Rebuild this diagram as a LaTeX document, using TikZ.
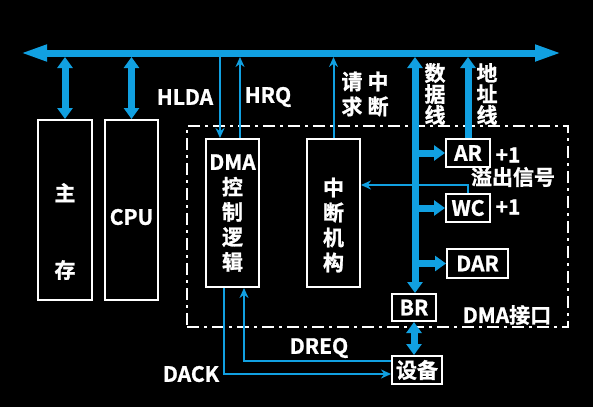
\documentclass[tikz,border=0pt]{standalone}
\usepackage{fontspec}
\setmainfont{Noto Sans CJK SC Bold}[FakeBold=1.2]
\usetikzlibrary{arrows.meta}
\definecolor{busblue}{RGB}{17,160,225}
\begin{document}
\begin{tikzpicture}[x=1pt,y=-1pt,
  every node/.style={text=white,font=\fontsize{21}{25}\selectfont,inner sep=0pt},
  box/.style={draw=white,line width=2pt,inner sep=0pt},
  fat/.style={draw=busblue,line width=7pt},
  fathead/.tip={Triangle[length=11pt,width=15pt]},
  bushead/.tip={Triangle[length=27pt,width=15pt]},
  thinarrow/.style={draw=busblue,line width=2pt,-{Stealth[length=10pt,width=9pt]}},
  vert/.style={align=center,font=\fontsize{21}{21}\selectfont}]
\fill[black] (0,0) rectangle (593,407);
\useasboundingbox (0,0) rectangle (593,407);
% interface frame
\node[draw=white,line width=1.5pt,dash pattern=on 12pt off 5pt on 3pt off 5pt,
  minimum width=381,minimum height=201] (iface) at (377.5,226.5) {};
% bus
\coordinate (busL) at (20,53);
\coordinate (busR) at (562,53);
\draw[fat,bushead-bushead] (busL) -- (busR);
\coordinate (btm) at (0,57);
% boxes
\node[box,minimum width=54,minimum height=180,align=center] (mem) at (65,210) {};
\node[align=center] (memt) at (65,231.5) {主\\[52pt]存};
\node[box,minimum width=53,minimum height=180] (cpu) at (131.5,210) {};
\node (cput) at (131.5,217) {CPU};
\node[box,minimum width=53,minimum height=148,align=center] (dma) at (232.5,213) {DMA\\控\\制\\逻\\辑};
\node[box,minimum width=53,minimum height=148] (int) at (333.5,213) {};
\node[align=center] (intt) at (333.5,225) {中\\断\\机\\构};
\node[box,minimum width=44,minimum height=28] (ar) at (468,153) {AR};
\node[box,minimum width=44,minimum height=28] (wc) at (468,208) {WC};
\node[box,minimum width=61,minimum height=29] (dar) at (477.5,263.5) {DAR};
\node[box,minimum width=44,minimum height=27] (br) at (414,307.5) {BR};
\node[box,minimum width=50,minimum height=28] (dev) at (417,370) {设备};
% fat connectors
\draw[fat,fathead-fathead] (mem.north) -- (mem.north |- btm);
\draw[fat,fathead-fathead] (cpu.north) -- (cpu.north |- btm);
\coordinate (dtop) at (415,57);
\draw[fat,fathead-fathead] (dtop) -- (dtop |- br.north);
\draw[fat,-fathead] (ar.west -| dtop) -- (ar.west);
\draw[fat,-fathead] (wc.west -| dtop) -- (wc.west);
\draw[fat,-fathead] (dar.west -| dtop) -- (dar.west);
\draw[fat,-fathead] (ar.north) -- (ar.north |- btm);
\draw[fat,fathead-fathead] (br.south) -- (br.south |- dev.north);
% thin connectors
\coordinate (hlda) at (220,57);
\coordinate (hrq) at (240,57);
\draw[thinarrow] (hlda) -- (hlda |- dma.north);
\draw[thinarrow] (hrq |- dma.north) -- (hrq);
\draw[thinarrow] (int.north) -- (int.north |- btm);
\coordinate (ovfy) at (0,185);
\draw[thinarrow] (wc.north) |- (int.east |- ovfy);
\coordinate (dreq) at (244,361);
\coordinate (dack) at (224,374);
\draw[thinarrow] (dev.west |- dreq) -| (dma.south -| dreq);
\draw[thinarrow] (dma.south -| dack) |- (dev.west |- dack);
% labels
\node (lhlda) at (185,97) {HLDA};
\node (lhrq) at (268,97) {HRQ};
\node[align=center] (lreq) at (365,94) {请\hspace{5pt}中\\求\hspace{5pt}断};
\node[vert] (ldata) at (435,94) {数\\据\\线};
\node[vert] (laddr) at (487,94) {地\\址\\线};
\node (lar1) at (508,155) {+1};
\node (lwc1) at (508,207) {+1};
\node (lovf) at (513,177) {溢出信号};
\node (liface) at (507,315) {DMA接口};
\node (ldreq) at (319,348) {DREQ};
\node (ldack) at (191,374) {DACK};
\end{tikzpicture}
\end{document}
